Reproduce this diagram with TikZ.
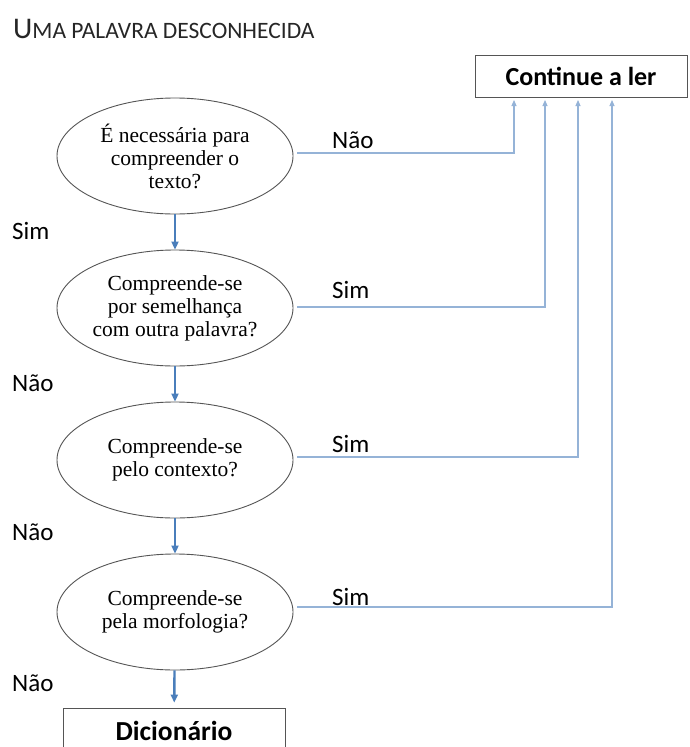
\documentclass[tikz,border=0pt]{standalone}
\usepackage{fontspec}
\setmainfont{Liberation Serif}
\newfontfamily\calibri{Carlito}
\usetikzlibrary{arrows.meta,shapes.geometric}

\definecolor{mainblue}{HTML}{4A7EBB}
\definecolor{lineblue}{HTML}{95B3D7}
\definecolor{edgegray}{HTML}{555555}

\tikzset{
    question/.style={shape=ellipse, draw=edgegray, line width=0.9pt, minimum width=236pt,
        minimum height=116pt, inner sep=0pt, align=center,
        font=\fontsize{21.5}{23}\selectfont},
    answer/.style={shape=rectangle, draw=edgegray, line width=0.9pt, inner sep=0pt,
        font=\calibri\bfseries\fontsize{26}{26}\selectfont},
    tag/.style={anchor=west, inner sep=0pt, font=\calibri\fontsize{25}{25}\selectfont},
    down/.style={draw=mainblue, line width=2.4pt, -{Triangle[length=8pt,width=7pt]}},
    back/.style={draw=lineblue, line width=1.1pt, -{Triangle[length=6pt,width=5pt]}, shorten >=3pt}
}

\begin{document}
\begin{tikzpicture}[x=1pt, y=-1pt]
    \useasboundingbox[fill=white] (0,0) rectangle (690,747);

    \node[anchor=base west, inner sep=0pt, text=black!85] (title) at (13,38)
        {\calibri\fontsize{30}{30}\selectfont U\fontsize{23.5}{23.5}\selectfont MA PALAVRA DESCONHECIDA};

    % decisions
    \node[question] (q1) at (175,156) {É necessária para\\compreender o\\texto?};
    \node[question] (q2) at (175,308) {Compreende-se\\por semelhança\\com outra palavra?};
    \node[question] (q3) at (175,460) {Compreende-se\\pelo contexto?};
    \node[question] (q4) at (175,612) {Compreende-se\\pela morfologia?};

    % outcomes
    \node[answer, minimum width=212pt, minimum height=42pt] (cont) at (581,76) {Continue a ler};
    \node[answer, minimum width=222pt, minimum height=46pt,
        font=\calibri\bfseries\fontsize{27.5}{27.5}\selectfont] (dict) at (174,731) {Dicionário};

    \coordinate (in1) at (514,97);
    \coordinate (in2) at (545,97);
    \coordinate (in3) at (578,97);
    \coordinate (in4) at (612,97);

    % labels
    \node[tag] (l1) at (12,231) {Sim};
    \node[tag] (l2) at (12,383) {Não};
    \node[tag] (l3) at (12,532) {Não};
    \node[tag] (l4) at (12,683) {Não};
    \node[tag] (r1) at (332,140) {Não};
    \node[tag] (r2) at (332,290) {Sim};
    \node[tag] (r3) at (332,444) {Sim};
    \node[tag] (r4) at (332,597) {Sim};

    \draw[down] (q1) to (q2);
    \draw[down] (q2) to (q3);
    \draw[down] (q3) to (q4);
    \draw[down, shorten >=5pt] (q4) to (dict);

    \draw[back] ([xshift=4pt,yshift=3pt]q1.east) -| (in1);
    \draw[back] ([xshift=4pt,yshift=1pt]q2.east) -| (in2);
    \draw[back] ([xshift=4pt,yshift=3pt]q3.east) -| (in3);
    \draw[back] ([xshift=4pt,yshift=5pt]q4.east) -| (in4);

\end{tikzpicture}
\end{document}
